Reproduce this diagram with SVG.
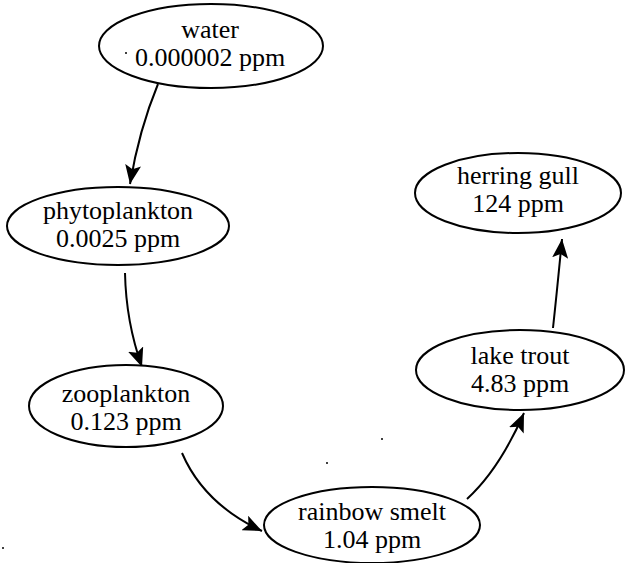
<svg xmlns="http://www.w3.org/2000/svg" width="627" height="563" viewBox="0 0 627 563">
<style>
.n ellipse{fill:#fff;stroke:#000;stroke-width:2}
.n text{font-family:"Liberation Serif","Times New Roman",serif;font-size:26px;text-anchor:middle;fill:#000}
.e path{fill:none;stroke:#000;stroke-width:2}
.sp{fill:#000}
</style>
<defs>
<marker id="ah" viewBox="0 0 19 16" refX="19" refY="8" markerWidth="19" markerHeight="16" markerUnits="userSpaceOnUse" orient="auto">
<path d="M0,0 L19,8 L0,16 L4,8 Z" fill="#000"/>
</marker>
</defs>
<rect width="627" height="563" fill="#fff"/>
<g id="edges" class="e">
<path d="M158,84 Q139,130 130,184" marker-end="url(#ah)"/>
<path d="M125,273 Q126,322 142,367" marker-end="url(#ah)"/>
<path d="M182,453 Q204,504 262,531" marker-end="url(#ah)"/>
<path d="M467,499 Q499,470 524,413" marker-end="url(#ah)"/>
<path d="M553,328 Q557,291 562,239" marker-end="url(#ah)"/>
</g>
<g id="water" class="n">
<ellipse cx="211" cy="46" rx="112" ry="42"/>
<text x="210" y="38">water</text>
<text x="210" y="66">0.000002 ppm</text>
</g>
<g id="phytoplankton" class="n">
<ellipse cx="118" cy="226" rx="111" ry="39"/>
<text x="118" y="219">phytoplankton</text>
<text x="118" y="247">0.0025 ppm</text>
</g>
<g id="zooplankton" class="n">
<ellipse cx="126" cy="406" rx="97" ry="41"/>
<text x="126" y="402">zooplankton</text>
<text x="126" y="430">0.123 ppm</text>
</g>
<g id="rainbow_smelt" class="n">
<ellipse cx="372" cy="525" rx="108" ry="38"/>
<text x="372" y="520">rainbow smelt</text>
<text x="372" y="548">1.04 ppm</text>
</g>
<g id="lake_trout" class="n">
<ellipse cx="520" cy="370" rx="104" ry="40"/>
<text x="520" y="364">lake trout</text>
<text x="520" y="392">4.83 ppm</text>
</g>
<g id="herring_gull" class="n">
<ellipse cx="518" cy="193" rx="103" ry="40"/>
<text x="518" y="184">herring gull</text>
<text x="518" y="212">124 ppm</text>
</g>
<g id="specks" class="sp">
<circle cx="126" cy="53" r="1"/>
<circle cx="382" cy="439" r="1"/>
<circle cx="327" cy="463" r="1"/>
<circle cx="3" cy="548" r="1"/>
</g>
</svg>
